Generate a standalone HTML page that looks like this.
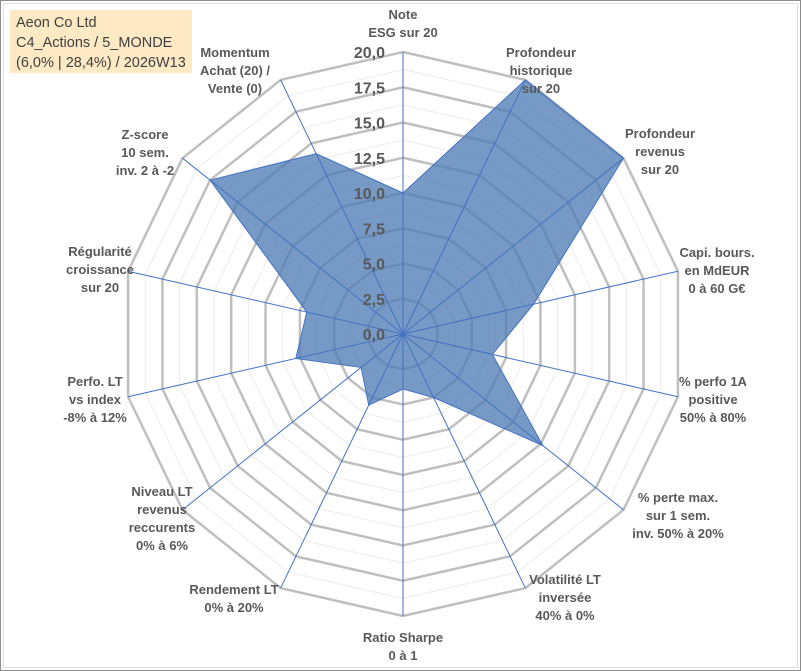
<!DOCTYPE html>
<html><head><meta charset="utf-8"><style>
body{margin:0;background:#fff}
#wrap{position:relative;width:801px;height:671px;overflow:hidden;background:#fff}
svg{position:absolute;left:0;top:0}
text{font-family:"Liberation Sans",sans-serif}
</style></head><body>
<div id="wrap">
<svg id="chart" width="801" height="671">
<rect x="0.5" y="0.5" width="800" height="670" fill="#fff" stroke="#8c8c8c"/>
<rect x="3.5" y="3.5" width="794" height="664" fill="none" stroke="#e0e0e0"/>
<rect x="10" y="10" width="182" height="63" fill="#fde9c4"/>
<text x="16" y="27" font-size="14.5" fill="#404040">Aeon Co Ltd</text>
<text x="16" y="47" font-size="14.5" fill="#404040">C4_Actions / 5_MONDE</text>
<text x="16" y="67" font-size="14.5" fill="#404040">(6,0% | 28,4%) / 2026W13</text>
<g id="grid"></g><g id="series"></g><g id="axes"></g><g id="ticks"></g><g id="labels"></g>
</svg>
</div>
<script>
const categories=[["Note","ESG sur 20"],["Profondeur","historique","sur 20"],["Profondeur","revenus","sur 20"],["Capi. bours.","en MdEUR","0 à 60 G€"],["% perfo 1A","positive","50% à 80%"],["% perte max.","sur 1 sem.","inv. 50% à 20%"],["Volatilité LT","inversée","40% à 0%"],["Ratio Sharpe","0 à 1"],["Rendement LT","0% à 20%"],["Niveau LT","revenus","reccurents","0% à 6%"],["Perfo. LT","vs index","-8% à 12%"],["Régularité","croissance","sur 20"],["Z-score","10 sem.","inv. 2 à -2"],["Momentum","Achat (20) /","Vente (0)"]];
const values=[10.0,20.0,20.0,9.5,6.5,12.7,5.0,3.9,5.6,3.8,7.8,7.0,17.5,14.2];
const tickLabels=["0,0","2,5","5,0","7,5","10,0","12,5","15,0","17,5","20,0"];
const tickValues=[0,2.5,5,7.5,10,12.5,15,17.5,20];
const labelPos=[[403,14],[541,52],[660,133],[717,252],[713,381],[678,497],[565,579],[403,637],[234,589],[162,491],[95,381],[100,251],[145,134],[235,52]];
const cx=403,cy=334,R=282,maxV=20,N=categories.length;
const NS="http://www.w3.org/2000/svg";
function rr(v){return v/maxV*R;}
function pt(i,v){const a=i*2*Math.PI/N;return [cx+rr(v)*Math.sin(a),cy-rr(v)*Math.cos(a)];}
function mk(tag,attrs,parent){const e=document.createElementNS(NS,tag);for(const k in attrs)e.setAttribute(k,attrs[k]);parent.appendChild(e);return e;}
const grid=document.getElementById('grid');
for(let v=1.25;v<=20.001;v+=1.25){
  const major=Math.abs(v/2.5-Math.round(v/2.5))<1e-6;
  const p=[];for(let i=0;i<N;i++)p.push(pt(i,v).join(','));
  const e=mk('polygon',{points:p.join(' '),fill:'none',stroke:major?'#bfbfbf':'#ececec','stroke-width':major?2.5:1},grid);
  
  
}
const series=document.getElementById('series');
const sp=values.map((v,i)=>pt(i,v).join(',')).join(' ');
const poly=mk('polygon',{points:sp,fill:'#4f7db5','fill-opacity':'0.78',stroke:'#4472c4','stroke-width':1},series);


const axes=document.getElementById('axes');
for(let i=0;i<N;i++){
  const [x,y]=pt(i,20);
  const l=mk('line',{x1:cx,y1:cy,x2:x,y2:y,stroke:'#4472c4','stroke-width':1},axes);
  
  
}
const ticks=document.getElementById('ticks');
tickValues.forEach((v,k)=>{
  const t=mk('text',{x:cx-18,y:cy-rr(v)+6,'text-anchor':'end','font-size':16,'font-weight':'bold',fill:'#595959'},ticks);
  t.textContent=tickLabels[k];
  
  
});
const labels=document.getElementById('labels');
categories.forEach((lines,i)=>{
  const [x,y]=labelPos[i];
  const t=mk('text',{x:x,y:y+5,'text-anchor':'middle','font-size':13,'font-weight':'bold',fill:'#595959'},labels);
  
  
  lines.forEach((s,j)=>{const ts=mk('tspan',{x:x,dy:j?18:0},t);ts.textContent=s;});
});
</script>
</body></html>
